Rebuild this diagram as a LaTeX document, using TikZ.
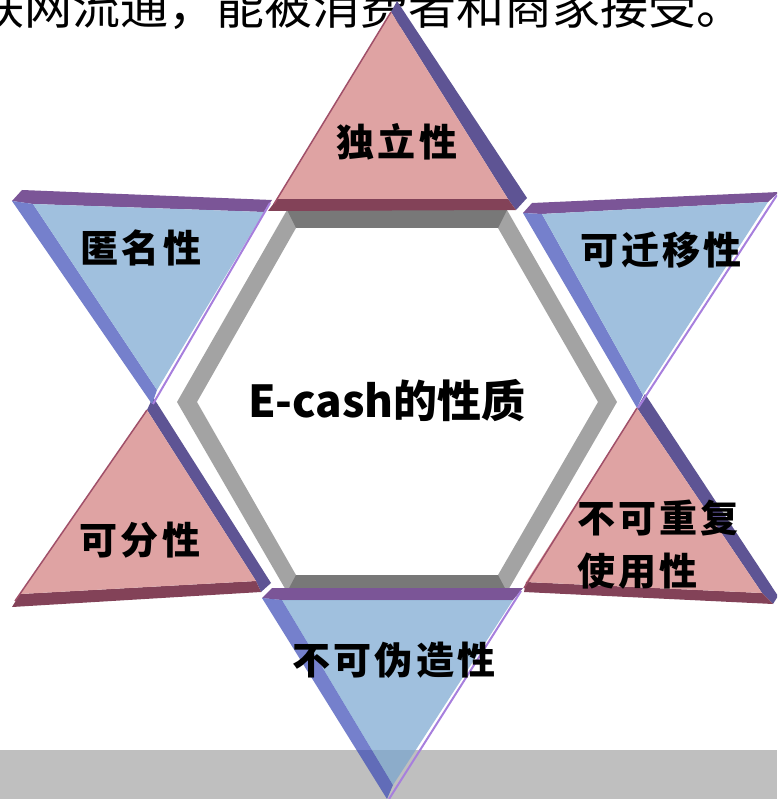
\documentclass[tikz,border=0pt]{standalone}
\usepackage{fontspec}
\newfontfamily\cjk{Noto Sans CJK SC}
\newfontfamily\cjksp{Noto Sans CJK SC}[LetterSpace=8]
\definecolor{pinkface}{RGB}{223,163,163}
\definecolor{pinkbev}{RGB}{94,84,148}
\definecolor{pinkbase}{RGB}{131,66,88}
\definecolor{pinkedge}{RGB}{160,80,105}
\definecolor{blueface}{RGB}{160,192,222}
\definecolor{bluefaceT}{RGB}{119,165,208}
\definecolor{bluetop}{RGB}{123,85,151}
\definecolor{blueleft}{RGB}{117,128,204}
\definecolor{blueleftT}{RGB}{58,74,182}
\definecolor{blueedge}{RGB}{167,127,221}
\definecolor{hexdark}{RGB}{120,120,120}
\definecolor{hexlight}{RGB}{163,163,163}
\definecolor{bandgray}{RGB}{191,191,191}
\tikzset{
  lbl/.style={font=\cjksp\bfseries\fontsize{38}{53}\selectfont, inner sep=0pt, text=black},
  ctr/.style={font=\cjk\bfseries\fontsize{44}{50}\selectfont, inner sep=0pt, text=black},
  topline/.style={font=\cjk\fontsize{48}{48}\selectfont, inner sep=0pt, text=black},
  pface/.style={fill=pinkface},
  pbev/.style={fill=pinkbev},
  pbase/.style={fill=pinkbase},
  bface/.style={fill=blueface},
  btop/.style={fill=bluetop},
  bleft/.style={fill=blueleft},
  bedge/.style={draw=blueedge, line width=2pt},
  pedge/.style={draw=pinkedge, line width=1.5pt},
}
\begin{document}
\begin{tikzpicture}[x=1pt,y=-1pt,line join=round]
\useasboundingbox (0,0) rectangle (777,799);
\clip (0,0) rectangle (777,799);
% bottom band
\fill[bandgray] (0,750) rectangle (777,799);
% top text line (cut by the page edges)
\node[topline, anchor=base west] (topt) at (-24,24.5) {联网流通，能被消费者和商家接受。};
% hexagon frame
\coordinate (o1) at (177,402); \coordinate (o2) at (287,210);
\coordinate (o3) at (507,210); \coordinate (o4) at (617,402);
\coordinate (o5) at (507,592); \coordinate (o6) at (287,592);
\coordinate (i1) at (197,402); \coordinate (i2) at (296,228);
\coordinate (i3) at (498,228); \coordinate (i4) at (598,402);
\coordinate (i5) at (498,575); \coordinate (i6) at (296,575);
\fill[hexlight, even odd rule] (o1)--(o2)--(o3)--(o4)--(o5)--(o6)--cycle
  (i1)--(i2)--(i3)--(i4)--(i5)--(i6)--cycle;
\fill[hexdark] (o2)--(o3)--(i3)--(i2)--cycle;
\fill[hexdark] (o6)--(o5)--(i5)--(i6)--cycle;
% ---- top pink triangle
\fill[pbev] (391,12)--(397,1)--(527,198)--(516,210)--(508,199)--cycle;
\fill[pbase] (277,199)--(508,199)--(516,210)--(268,211)--cycle;
\fill[pface] (391,12)--(277,199)--(508,199)--cycle;
\draw[pedge] (391,12)--(274,204);
% ---- bottom-left pink triangle
\fill[pbev] (147,410)--(153,397)--(271,583)--(261,592)--(256,581)--cycle;
\fill[pbase] (20,594)--(256,581)--(261,592)--(12,607)--cycle;
\fill[pface] (147,410)--(20,594)--(256,581)--cycle;
\draw[pedge] (147,410)--(15,601);
% ---- bottom-right pink triangle
\fill[pbev] (637,408)--(645,394)--(778,596)--(773,604)--(762,593)--cycle;
\fill[pbase] (526,582)--(762,593)--(773,604)--(524,592)--cycle;
\fill[pface] (637,408)--(526,582)--(762,593)--cycle;
\draw[pedge] (637,408)--(524,588);
% ---- top-left blue triangle
\fill[btop] (12,201)--(22,190)--(272,200)--(264,212)--(33,204)--cycle;
\fill[bleft] (12,201)--(33,204)--(157,390)--(152,404)--cycle;
\fill[bface] (33,204)--(264,212)--(157,390)--cycle;
\draw[bedge] (270,203)--(153,404);
% ---- top-right blue triangle
\fill[btop] (523,213)--(532,203)--(779,192)--(768,202)--(542,214)--cycle;
\fill[bleft] (523,213)--(542,214)--(643,395)--(637,408)--cycle;
\fill[bface] (542,214)--(768,202)--(643,395)--cycle;
\draw[bedge] (777,195)--(638,408);
% ---- bottom blue triangle (over the band, see-through)
\fill[btop] (262,598)--(272,588)--(523,588)--(513,600)--(282,600)--cycle;
\fill[blueleftT, fill opacity=0.7] (262,598)--(282,600)--(393,785)--(387,799)--cycle;
\fill[bluefaceT, fill opacity=0.7] (282,600)--(513,600)--(393,785)--cycle;
\draw[bedge] (521,591)--(389,799);
% ---- labels
\node[ctr] (center) at (387,401) {E-cash的性质};
\node[lbl] (l1) at (397,142) {独立性};
\node[lbl] (l2) at (141,248) {匿名性};
\node[lbl] (l3) at (661,250) {可迁移性};
\node[lbl] (l4) at (140,540) {可分性};
\node[lbl, align=left, anchor=north west] (l5) at (577,500) {不可重复\\使用性};
\node[lbl] (l6) at (394,660) {不可伪造性};
\end{tikzpicture}
\end{document}
